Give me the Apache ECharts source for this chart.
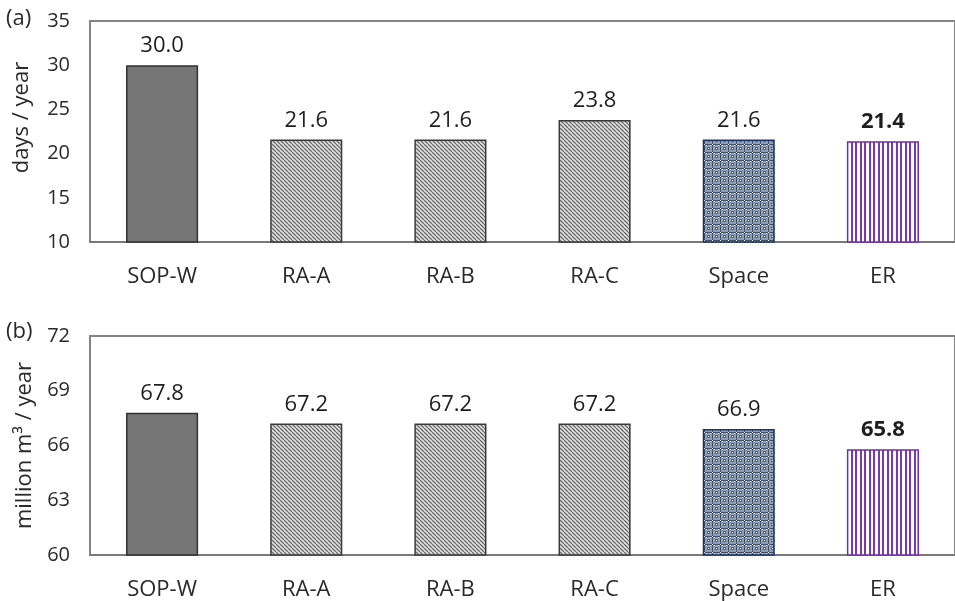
<!DOCTYPE html>
<html><head><meta charset="utf-8">
<script src="https://cdn.jsdelivr.net/npm/echarts@6/dist/echarts.min.js"></script>
<style>html,body{margin:0;padding:0;background:#fff}#c{width:955px;height:601px}</style>
</head><body><div id="c"></div>
<script>
const categories = ['SOP-W', 'RA-A', 'RA-B', 'RA-C', 'Space', 'ER'];
const daysPerYear = [30.0, 21.6, 21.6, 23.8, 21.6, 21.4];
const volumePerYear = [67.8, 67.2, 67.2, 67.2, 66.9, 65.8];
const daysAxis = { min: 10, max: 35, interval: 5 };
const volumeAxis = { min: 60, max: 72, interval: 3 };
const panelLabels = ['(a)', '(b)'];
const axisNames = ['days / year', 'million m\u00B3 / year'];

function makeCanvas(w, h, draw) {
  const c = document.createElement('canvas');
  c.width = w; c.height = h;
  draw(c.getContext('2d'), w, h);
  return c;
}
const hatchPattern = makeCanvas(4, 4, (g, w, h) => {
  g.fillStyle = '#e2e2e2'; g.fillRect(0, 0, w, h);
  g.strokeStyle = '#6e6e6e'; g.lineWidth = 1.3;
  for (const k of [-w, 0, w]) { g.beginPath(); g.moveTo(k, 0); g.lineTo(k + w, h); g.stroke(); }
});
const spacePattern = makeCanvas(8, 8, (g, w, h) => {
  g.fillStyle = '#8e9db6'; g.fillRect(0, 0, w, h);
  g.fillStyle = '#40506e'; g.fillRect(0, 0, w, 1); g.fillRect(0, 0, 1, h);
  g.fillStyle = '#5a6a88'; g.fillRect(3, 3, 3, 3);
  g.fillStyle = '#ffffff'; g.fillRect(0, 0, 1, 1); g.fillRect(4, 4, 1, 1);
  g.fillStyle = '#c4cede'; g.fillRect(2, 1, 1, 1); g.fillRect(6, 1, 1, 1);
});
const erPattern = makeCanvas(9, 4, (g, w, h) => {
  g.fillStyle = '#ffffff'; g.fillRect(0, 0, w, h);
  g.fillStyle = '#7a3aa8'; g.fillRect(0, 0, 2, h); g.fillRect(5, 0, 2, h);
});

const barStyles = [
  { color: '#767676', borderColor: '#303030', borderWidth: 1.5 },
  { color: { image: hatchPattern, repeat: 'repeat' }, borderColor: '#3a3a3a', borderWidth: 1.5 },
  { color: { image: hatchPattern, repeat: 'repeat' }, borderColor: '#3a3a3a', borderWidth: 1.5 },
  { color: { image: hatchPattern, repeat: 'repeat' }, borderColor: '#3a3a3a', borderWidth: 1.5 },
  { color: { image: spacePattern, repeat: 'repeat' }, borderColor: '#1f3560', borderWidth: 1.5 },
  { color: { image: erPattern, repeat: 'repeat' }, borderColor: '#7030a0', borderWidth: 1.5 }
];

function buildData(values) {
  return values.map((v, i) => ({
    value: v,
    itemStyle: barStyles[i],
    label: i === values.length - 1 ? { fontWeight: 'bold' } : {}
  }));
}

const FONT = 'Open Sans';
const grids = [
  { left: 90, top: 21, width: 876, height: 221, show: true, borderColor: '#858585', borderWidth: 2, backgroundColor: 'transparent' },
  { left: 90, top: 336, width: 876, height: 222, show: true, borderColor: '#858585', borderWidth: 2, backgroundColor: 'transparent' }
];
const nameGaps = [57, 52];
const namePads = [[0, 0, 0, 28], [0, 0, 0, 0]];
const yAxes = [daysAxis, volumeAxis].map((ax, i) => ({
  type: 'value', gridIndex: i, min: ax.min, max: ax.max, interval: ax.interval,
  name: axisNames[i], nameLocation: 'middle', nameGap: nameGaps[i],
  nameTextStyle: { fontFamily: FONT, fontSize: 22, color: '#2a2a2a', padding: namePads[i] },
  axisLine: { show: false }, axisTick: { show: false }, splitLine: { show: false },
  axisLabel: { fontFamily: FONT, fontSize: 20, color: '#2a2a2a', margin: 20 }
}));
const xAxes = [0, 1].map(i => ({
  type: 'category', gridIndex: i, data: categories,
  axisLine: { show: true, lineStyle: { color: '#7a7a7a', width: 2 } },
  axisTick: { show: false },
  axisLabel: { fontFamily: FONT, fontSize: 22, color: '#2a2a2a', margin: 24 }
}));
const labelCfg = {
  show: true, position: 'top', distance: 8,
  fontFamily: FONT, fontSize: 22, color: '#1e1e1e',
  formatter: p => p.value.toFixed(1)
};

const chart = echarts.init(document.getElementById('c'), null, { renderer: 'canvas' });
chart.setOption({
  animation: false,
  grid: grids,
  xAxis: xAxes,
  yAxis: yAxes,
  graphic: [
    { type: 'text', left: 6, top: 8, style: { text: panelLabels[0], font: '22px "Open Sans"', fill: '#2a2a2a' } },
    { type: 'text', left: 6, top: 321, style: { text: panelLabels[1], font: '22px "Open Sans"', fill: '#2a2a2a' } }
  ],
  series: [
    { type: 'bar', xAxisIndex: 0, yAxisIndex: 0, barWidth: '50%', data: buildData(daysPerYear), label: labelCfg },
    { type: 'bar', xAxisIndex: 1, yAxisIndex: 1, barWidth: '50%', data: buildData(volumePerYear), label: labelCfg }
  ]
});
</script></body></html>
